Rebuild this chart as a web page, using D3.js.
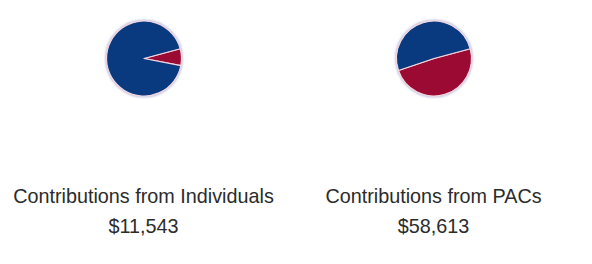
<!DOCTYPE html>
<html>
<head>
<meta charset="utf-8">
<script src="https://cdn.jsdelivr.net/npm/d3@7"></script>
<style>
  body { margin: 0; background: #fff; }
  text { font-family: "Liberation Sans", Arial, sans-serif; fill: #2b2b2b; }
</style>
</head>
<body>
<div id="chart"></div>
<script>
// contribution totals and party split (red first, then blue)
var titles = ["Contributions from Individuals", "Contributions from PACs"];
var totals = ["$11,543", "$58,613"];
var parties = ["Republican", "Democrat"];
var individuals = [830, 10713];
var pacs = [28720, 29893];

var width = 592, height = 264;
var radius = 37.5;
var centersX = [144, 434];

var svg = d3.select("#chart").append("svg")
    .attr("width", width).attr("height", height);

var defs = svg.append("defs");
var f = defs.append("filter").attr("id", "shadow")
    .attr("x", "-20%").attr("y", "-20%").attr("width", "140%").attr("height", "140%");
f.append("feDropShadow").attr("dx", 0).attr("dy", 0).attr("stdDeviation", 1.2)
    .attr("flood-color", "#8a90c0").attr("flood-opacity", 0.6);

var color = d3.scaleOrdinal().domain(parties).range(["#9b0a33", "#093a80"]);

var pie = d3.pie().sort(null)
    .startAngle(75 * Math.PI / 180)
    .endAngle(75 * Math.PI / 180 + 2 * Math.PI);
var arc = d3.arc().innerRadius(0).outerRadius(radius);

[individuals, pacs].forEach(function(vals, i) {
    var data = vals.map(function(v, j) { return { party: parties[j], value: v }; });
    var g = svg.append("g")
        .attr("transform", "translate(" + centersX[i] + ",58.5)");

    g.append("circle").attr("r", radius + 0.5)
        .attr("fill", "#fff").attr("stroke", "#d4d6ea").attr("stroke-width", 1.5)
        .attr("filter", "url(#shadow)");

    g.selectAll("path").data(pie.value(function(d) { return d.value; })(data))
        .enter().append("path")
        .attr("d", arc)
        .attr("fill", function(d) { return color(d.data.party); })
        .attr("stroke", "#f4d7e0")
        .attr("stroke-width", 1.2)
        .attr("stroke-linejoin", "round");

    svg.append("text")
        .attr("x", centersX[i] - 0.5).attr("y", 203)
        .attr("text-anchor", "middle")
        .style("font-size", "19.8px")
        .text(titles[i]);

    svg.append("text")
        .attr("x", centersX[i] - 0.5).attr("y", 233)
        .attr("text-anchor", "middle")
        .style("font-size", "19.8px")
        .text(totals[i]);
});
</script>
</body>
</html>
